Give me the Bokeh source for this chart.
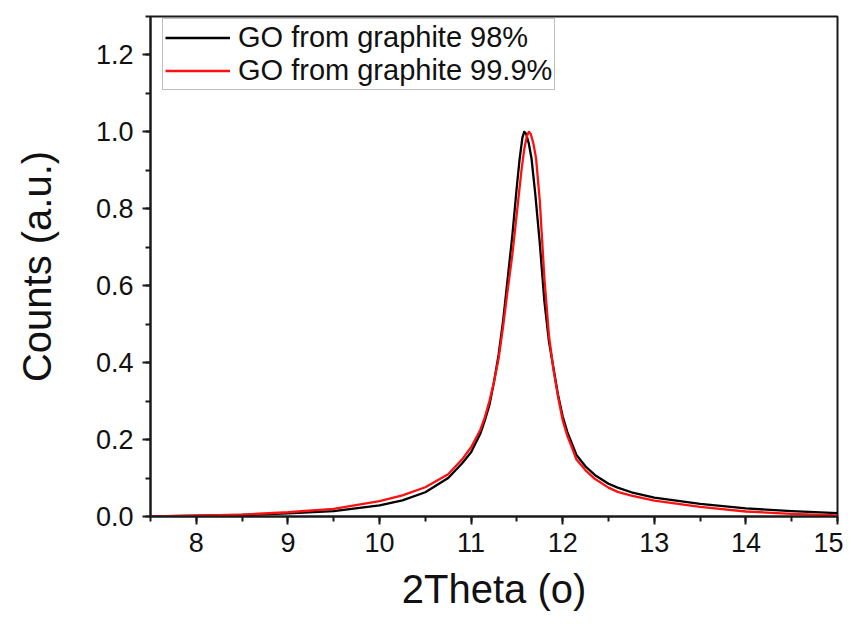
from bokeh.plotting import figure
from bokeh.models import Range1d, FixedTicker, PrintfTickFormatter, Legend, LegendItem
from bokeh.embed import file_html
from bokeh.resources import INLINE

# Data (2Theta in degrees, normalised counts)
x_black = [7.5, 8.0, 8.5, 9.0, 9.5, 10.0, 10.25, 10.5, 10.75, 10.9, 11.0, 11.1, 11.15, 11.2,
           11.25, 11.3, 11.35, 11.4, 11.45, 11.5, 11.53, 11.56, 11.58, 11.6, 11.63, 11.66,
           11.7, 11.75, 11.8, 11.85, 11.9, 11.95, 12.0, 12.05, 12.1, 12.15, 12.25, 12.35,
           12.5, 12.6, 12.75, 13.0, 13.5, 14.0, 14.5, 15.0]
y_black = [0.000, 0.002, 0.004, 0.008, 0.014, 0.029, 0.042, 0.063, 0.100, 0.138, 0.167, 0.215,
           0.250, 0.290, 0.350, 0.420, 0.510, 0.620, 0.730, 0.860, 0.930, 0.985, 1.000, 0.995,
           0.970, 0.930, 0.840, 0.710, 0.560, 0.455, 0.385, 0.315, 0.260, 0.220, 0.190, 0.160,
           0.130, 0.108, 0.085, 0.075, 0.063, 0.049, 0.033, 0.021, 0.014, 0.009]

x_red = [7.5, 8.0, 8.5, 9.0, 9.5, 10.0, 10.25, 10.5, 10.75, 10.9, 11.0, 11.1, 11.15, 11.2,
         11.25, 11.3, 11.35, 11.4, 11.45, 11.5, 11.55, 11.58, 11.61, 11.63, 11.65, 11.68,
         11.71, 11.75, 11.8, 11.85, 11.9, 11.95, 12.0, 12.05, 12.1, 12.15, 12.25, 12.35,
         12.5, 12.6, 12.75, 13.0, 13.5, 14.0, 14.5, 15.0]
y_red = [0.000, 0.002, 0.005, 0.011, 0.020, 0.040, 0.055, 0.076, 0.110, 0.148, 0.180, 0.225,
         0.258, 0.300, 0.350, 0.410, 0.495, 0.590, 0.680, 0.790, 0.900, 0.955, 0.990, 1.000,
         0.995, 0.970, 0.930, 0.820, 0.620, 0.470, 0.380, 0.310, 0.250, 0.210, 0.180, 0.148,
         0.120, 0.098, 0.075, 0.064, 0.054, 0.041, 0.025, 0.013, 0.007, 0.003]

labels = ["GO from graphite 98%", "GO from graphite 99.9%"]
x_ticks = [8, 9, 10, 11, 12, 13, 14, 15]
y_ticks = [0.0, 0.2, 0.4, 0.6, 0.8, 1.0, 1.2]

FONT = "Liberation Sans"

p = figure(width=843, height=616, output_backend="svg", toolbar_location=None,
           x_range=Range1d(7.5, 15), y_range=Range1d(0, 1.3),
           min_border_left=150, min_border_right=6, min_border_top=16, min_border_bottom=100)

p.xgrid.visible = False
p.ygrid.visible = False
p.outline_line_color = "#1a1a1a"
p.outline_line_width = 2
p.background_fill_color = "white"
p.border_fill_color = "white"

r1 = p.line(x_black, y_black, line_color="black", line_width=2.3, line_join="round")
r2 = p.line(x_red, y_red, line_color="#ff1010", line_width=2.3, line_join="round")

for ax in (p.xaxis[0], p.yaxis[0]):
    ax.axis_line_color = "#1a1a1a"
    ax.axis_line_width = 2
    ax.major_tick_line_color = "#1a1a1a"
    ax.minor_tick_line_color = "#1a1a1a"
    ax.major_tick_line_width = 2
    ax.minor_tick_line_width = 2
    ax.major_tick_out = 8
    ax.major_tick_in = 0
    ax.minor_tick_out = 5
    ax.minor_tick_in = 0
    ax.major_label_text_font = FONT
    ax.major_label_text_font_size = "27px"
    ax.major_label_text_color = "#111111"
    ax.axis_label_text_font = FONT
    ax.axis_label_text_font_style = "normal"
    ax.axis_label_text_font_size = "40px"
    ax.axis_label_text_color = "#111111"

p.xaxis[0].ticker = FixedTicker(ticks=x_ticks, minor_ticks=[7.5 + 0.5 * i for i in range(16)])
p.yaxis[0].ticker = FixedTicker(ticks=y_ticks, minor_ticks=[0.1 * i for i in range(14)])
p.xaxis[0].formatter = PrintfTickFormatter(format="%d")
p.yaxis[0].formatter = PrintfTickFormatter(format="%.1f")
p.xaxis[0].axis_label = "2Theta (o)"
p.yaxis[0].axis_label = "Counts (a.u.)"
p.xaxis[0].major_label_standoff = 8
p.yaxis[0].major_label_standoff = 9
p.xaxis[0].axis_label_standoff = 12
p.yaxis[0].axis_label_standoff = 34

legend = Legend(items=[LegendItem(label=labels[0], renderers=[r1]),
                       LegendItem(label=labels[1], renderers=[r2])],
                location=(12, 426))
legend.label_text_font = FONT
legend.label_text_font_size = "29px"
legend.label_text_color = "#111111"
legend.label_height = 33
legend.glyph_height = 33
legend.glyph_width = 65
legend.label_standoff = 8
legend.spacing = 0
legend.padding = 2
legend.margin = 0
legend.border_line_color = "#808080"
legend.border_line_width = 1.5
legend.background_fill_color = "white"
legend.background_fill_alpha = 1.0
p.add_layout(legend)

open("out.html", "w").write(file_html(p, INLINE))
